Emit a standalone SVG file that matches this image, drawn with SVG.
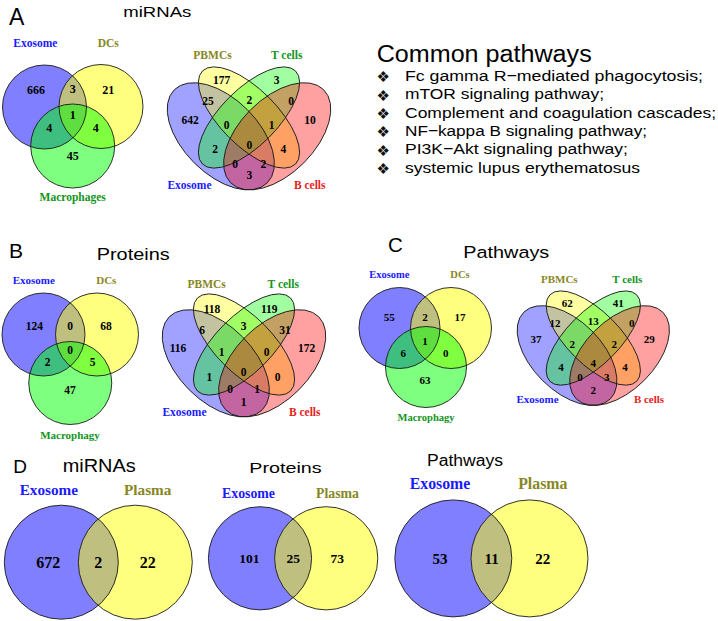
<svg xmlns="http://www.w3.org/2000/svg" width="718" height="621" viewBox="0 0 718 621">
<style>
.t{font-family:"Liberation Sans",Arial,sans-serif;fill:#000}
.lab{font-family:"Liberation Serif","Times New Roman",serif;font-weight:bold;text-anchor:middle}
.n{font-family:"Liberation Serif","Times New Roman",serif;font-weight:bold;text-anchor:middle;fill:#000}
.o{fill:none;stroke:#1a1a1a;stroke-width:0.9}
.cb{fill:#0000ff;fill-opacity:.5}
.cy{fill:#ffff00;fill-opacity:.5}
.cg{fill:#00ff00;fill-opacity:.5}
.qb{fill:#0000ff;fill-opacity:.37}
.qy{fill:#ffff00;fill-opacity:.37}
.qg{fill:#00ff00;fill-opacity:.37}
.qr{fill:#ff0000;fill-opacity:.37}
.lb{fill:#1a1aff}
.ly{fill:#87871f}
.lg{fill:#13951b}
.lr{fill:#e81c1c}
.bul{font-family:"DejaVu Sans",sans-serif;font-size:15px;fill:#111}
</style>
<rect width="718" height="621" fill="#fff"/>

<g id="titles">
<text class="t" x="9" y="25" font-size="23">A</text>
<text class="t" x="123.3" y="16.7" font-size="15.5" textLength="68" lengthAdjust="spacingAndGlyphs">miRNAs</text>
<text class="t" x="9" y="258" font-size="21">B</text>
<text class="t" x="96.7" y="260" font-size="16.5" textLength="73" lengthAdjust="spacingAndGlyphs">Proteins</text>
<text class="t" x="388" y="252" font-size="20.5">C</text>
<text class="t" x="463.3" y="258" font-size="16.3" textLength="86" lengthAdjust="spacingAndGlyphs">Pathways</text>
<text class="t" x="13.3" y="473.3" font-size="19">D</text>
<text class="t" x="62.7" y="471.7" font-size="19" textLength="73" lengthAdjust="spacingAndGlyphs">miRNAs</text>
<text class="t" x="249.3" y="472.7" font-size="15.5" textLength="72.4" lengthAdjust="spacingAndGlyphs">Proteins</text>
<text class="t" x="427" y="466" font-size="16" textLength="76" lengthAdjust="spacingAndGlyphs">Pathways</text>
</g>

<g id="common-pathways">
<text class="t" x="376.7" y="62" font-size="23" textLength="215" lengthAdjust="spacingAndGlyphs">Common pathways</text>
<text class="bul" x="376.5" y="82.2">❖︎</text>
<text class="bul" x="376.5" y="100.6">❖︎</text>
<text class="bul" x="376.5" y="119">❖︎</text>
<text class="bul" x="376.5" y="137.4">❖︎</text>
<text class="bul" x="376.5" y="155.8">❖︎</text>
<text class="bul" x="376.5" y="174.2">❖︎</text>
<text class="t" x="405" y="80.7" font-size="15.5" textLength="298" lengthAdjust="spacingAndGlyphs">Fc gamma R−mediated phagocytosis;</text>
<text class="t" x="405" y="99.1" font-size="15.5" textLength="199" lengthAdjust="spacingAndGlyphs">mTOR signaling pathway;</text>
<text class="t" x="405" y="117.5" font-size="15.5" textLength="311" lengthAdjust="spacingAndGlyphs">Complement and coagulation cascades;</text>
<text class="t" x="405" y="135.9" font-size="15.5" textLength="242" lengthAdjust="spacingAndGlyphs">NF−kappa B signaling pathway;</text>
<text class="t" x="405" y="154.3" font-size="15.5" textLength="223" lengthAdjust="spacingAndGlyphs">PI3K−Akt signaling pathway;</text>
<text class="t" x="405" y="172.7" font-size="15.5" textLength="235" lengthAdjust="spacingAndGlyphs">systemic lupus erythematosus</text>
</g>

<!-- Panel A triple -->
<g id="venn-A3">
<circle class="cb" cx="44.5" cy="107" r="42"/>
<circle class="cy" cx="101" cy="106.5" r="42"/>
<circle class="cg" cx="72.7" cy="146" r="42"/>
<circle class="o" cx="44.5" cy="107" r="42"/>
<circle class="o" cx="101" cy="106.5" r="42"/>
<circle class="o" cx="72.7" cy="146" r="42"/>
<text class="lab lb" x="35.3" y="47" font-size="11.5">Exosome</text>
<text class="lab ly" x="108.3" y="47" font-size="11.5">DCs</text>
<text class="lab lg" x="72.7" y="201" font-size="11.5">Macrophages</text>
<g font-size="12">
<text class="n" x="36" y="94">666</text>
<text class="n" x="72.7" y="93.3">3</text>
<text class="n" x="108.3" y="94">21</text>
<text class="n" x="72.7" y="119">1</text>
<text class="n" x="49.3" y="131.7">4</text>
<text class="n" x="95.7" y="131.7">4</text>
<text class="n" x="72.7" y="160">45</text>
</g>
</g>

<!-- Panel A quad -->
<g id="venn-A4">
<ellipse class="qb" cx="220.8" cy="136.3" rx="65.8" ry="37.6" transform="rotate(45 220.8 136.3)"/>
<ellipse class="qy" cx="249" cy="117.5" rx="65.8" ry="28.2" transform="rotate(45 249 117.5)"/>
<ellipse class="qg" cx="249" cy="117.5" rx="65.8" ry="28.2" transform="rotate(-45 249 117.5)"/>
<ellipse class="qr" cx="277.2" cy="136.3" rx="65.8" ry="37.6" transform="rotate(-45 277.2 136.3)"/>
<ellipse class="o" cx="220.8" cy="136.3" rx="65.8" ry="37.6" transform="rotate(45 220.8 136.3)"/>
<ellipse class="o" cx="249" cy="117.5" rx="65.8" ry="28.2" transform="rotate(45 249 117.5)"/>
<ellipse class="o" cx="249" cy="117.5" rx="65.8" ry="28.2" transform="rotate(-45 249 117.5)"/>
<ellipse class="o" cx="277.2" cy="136.3" rx="65.8" ry="37.6" transform="rotate(-45 277.2 136.3)"/>
<text class="lab ly" x="212.5" y="59" font-size="11.5">PBMCs</text>
<text class="lab lg" x="286.7" y="58.5" font-size="11.5">T cells</text>
<text class="lab lb" x="189.5" y="189" font-size="11.5">Exosome</text>
<text class="lab lr" x="309.7" y="189" font-size="11.5">B cells</text>
<g font-size="11.5">
<text class="n" x="221.7" y="84">177</text>
<text class="n" x="276.7" y="84">3</text>
<text class="n" x="208" y="105">25</text>
<text class="n" x="249.3" y="104">2</text>
<text class="n" x="291" y="105">0</text>
<text class="n" x="190" y="124">642</text>
<text class="n" x="226.7" y="129">0</text>
<text class="n" x="271.7" y="129">1</text>
<text class="n" x="310" y="124">10</text>
<text class="n" x="215" y="153">2</text>
<text class="n" x="249.3" y="149">0</text>
<text class="n" x="283.3" y="153">4</text>
<text class="n" x="235" y="168">0</text>
<text class="n" x="263.3" y="168">2</text>
<text class="n" x="249.3" y="179">3</text>
</g>
</g>

<!-- Panel B triple -->
<g id="venn-B3">
<circle class="cb" cx="43.5" cy="334.5" r="41.5"/>
<circle class="cy" cx="97" cy="334.5" r="41.5"/>
<circle class="cg" cx="70.25" cy="383" r="41.5"/>
<circle class="o" cx="43.5" cy="334.5" r="41.5"/>
<circle class="o" cx="97" cy="334.5" r="41.5"/>
<circle class="o" cx="70.25" cy="383" r="41.5"/>
<text class="lab lb" x="33.8" y="284" font-size="11">Exosome</text>
<text class="lab ly" x="106.3" y="284" font-size="11">DCs</text>
<text class="lab lg" x="70" y="439" font-size="11">Macrophagy</text>
<g font-size="11.5">
<text class="n" x="34.3" y="329.7">124</text>
<text class="n" x="70" y="329.7">0</text>
<text class="n" x="106" y="329.7">68</text>
<text class="n" x="70" y="354.3">0</text>
<text class="n" x="47.7" y="366.3">2</text>
<text class="n" x="92.7" y="366.3">5</text>
<text class="n" x="70" y="394">47</text>
</g>
</g>

<!-- Panel B quad -->
<g id="venn-B4">
<ellipse class="qb" cx="215.8" cy="363.3" rx="65.8" ry="37.6" transform="rotate(45 215.8 363.3)"/>
<ellipse class="qy" cx="244" cy="344.5" rx="65.8" ry="28.2" transform="rotate(45 244 344.5)"/>
<ellipse class="qg" cx="244" cy="344.5" rx="65.8" ry="28.2" transform="rotate(-45 244 344.5)"/>
<ellipse class="qr" cx="272.2" cy="363.3" rx="65.8" ry="37.6" transform="rotate(-45 272.2 363.3)"/>
<ellipse class="o" cx="215.8" cy="363.3" rx="65.8" ry="37.6" transform="rotate(45 215.8 363.3)"/>
<ellipse class="o" cx="244" cy="344.5" rx="65.8" ry="28.2" transform="rotate(45 244 344.5)"/>
<ellipse class="o" cx="244" cy="344.5" rx="65.8" ry="28.2" transform="rotate(-45 244 344.5)"/>
<ellipse class="o" cx="272.2" cy="363.3" rx="65.8" ry="37.6" transform="rotate(-45 272.2 363.3)"/>
<text class="lab ly" x="206.7" y="287.5" font-size="11.5">PBMCs</text>
<text class="lab lg" x="283.3" y="287.5" font-size="11.5">T cells</text>
<text class="lab lb" x="184.5" y="416" font-size="11.5">Exosome</text>
<text class="lab lr" x="304.7" y="416" font-size="11.5">B cells</text>
<g font-size="11.5">
<text class="n" x="212" y="313">118</text>
<text class="n" x="269.3" y="313">119</text>
<text class="n" x="202" y="334">6</text>
<text class="n" x="243.5" y="329.7">3</text>
<text class="n" x="285" y="334">31</text>
<text class="n" x="178" y="352.3">116</text>
<text class="n" x="221.7" y="355.7">1</text>
<text class="n" x="266.7" y="355.7">0</text>
<text class="n" x="306.7" y="352.3">172</text>
<text class="n" x="209.3" y="380.7">1</text>
<text class="n" x="243.5" y="375.7">0</text>
<text class="n" x="277.7" y="380.7">0</text>
<text class="n" x="230" y="393">0</text>
<text class="n" x="257" y="393">1</text>
<text class="n" x="243.5" y="406">1</text>
</g>
</g>

<!-- Panel C triple -->
<g id="venn-C3">
<circle class="cb" cx="399.5" cy="328" r="40.5"/>
<circle class="cy" cx="451" cy="328" r="40.5"/>
<circle class="cg" cx="426" cy="367" r="40.5"/>
<circle class="o" cx="399.5" cy="328" r="40.5"/>
<circle class="o" cx="451" cy="328" r="40.5"/>
<circle class="o" cx="426" cy="367" r="40.5"/>
<text class="lab lb" x="389.3" y="278.3" font-size="10.5">Exosome</text>
<text class="lab ly" x="460" y="278.3" font-size="10.5">DCs</text>
<text class="lab lg" x="426" y="421" font-size="10.5">Macrophagy</text>
<g font-size="11">
<text class="n" x="389.3" y="321.3">55</text>
<text class="n" x="425" y="321.3">2</text>
<text class="n" x="460" y="321.3">17</text>
<text class="n" x="425" y="344.7">1</text>
<text class="n" x="403.3" y="356.7">6</text>
<text class="n" x="445.7" y="356.7">0</text>
<text class="n" x="425" y="384">63</text>
</g>
</g>

<!-- Panel C quad -->
<g id="venn-C4">
<ellipse class="qb" cx="567.05" cy="355.55" rx="61.25" ry="35" transform="rotate(45 567.05 355.55)"/>
<ellipse class="qy" cx="593.3" cy="338.05" rx="61.25" ry="26.25" transform="rotate(45 593.3 338.05)"/>
<ellipse class="qg" cx="593.3" cy="338.05" rx="61.25" ry="26.25" transform="rotate(-45 593.3 338.05)"/>
<ellipse class="qr" cx="619.55" cy="355.55" rx="61.25" ry="35" transform="rotate(-45 619.55 355.55)"/>
<ellipse class="o" cx="567.05" cy="355.55" rx="61.25" ry="35" transform="rotate(45 567.05 355.55)"/>
<ellipse class="o" cx="593.3" cy="338.05" rx="61.25" ry="26.25" transform="rotate(45 593.3 338.05)"/>
<ellipse class="o" cx="593.3" cy="338.05" rx="61.25" ry="26.25" transform="rotate(-45 593.3 338.05)"/>
<ellipse class="o" cx="619.55" cy="355.55" rx="61.25" ry="35" transform="rotate(-45 619.55 355.55)"/>
<text class="lab ly" x="559.3" y="283.3" font-size="11">PBMCs</text>
<text class="lab lg" x="627.3" y="283.3" font-size="11">T cells</text>
<text class="lab lb" x="537.5" y="403" font-size="11">Exosome</text>
<text class="lab lr" x="649" y="403" font-size="11">B cells</text>
<g font-size="11">
<text class="n" x="567.3" y="307.3">62</text>
<text class="n" x="618.3" y="307.3">41</text>
<text class="n" x="555" y="327.3">12</text>
<text class="n" x="593.3" y="325">13</text>
<text class="n" x="631.7" y="326.7">0</text>
<text class="n" x="536" y="343.3">37</text>
<text class="n" x="572.3" y="348">2</text>
<text class="n" x="614.3" y="348">2</text>
<text class="n" x="649.3" y="343.3">29</text>
<text class="n" x="561" y="370.7">4</text>
<text class="n" x="593.3" y="366.7">4</text>
<text class="n" x="625" y="370.7">4</text>
<text class="n" x="580" y="381.3">0</text>
<text class="n" x="606.7" y="381.3">3</text>
<text class="n" x="593.3" y="394">2</text>
</g>
</g>

<!-- Panel D -->
<g id="venn-D1">
<circle class="cb" cx="61.3" cy="562.2" r="57"/>
<circle class="cy" cx="135.3" cy="562.2" r="57"/>
<circle class="o" cx="61.3" cy="562.2" r="57"/>
<circle class="o" cx="135.3" cy="562.2" r="57"/>
<text class="lab lb" x="48.8" y="495" font-size="15.2">Exosome</text>
<text class="lab ly" x="147.7" y="495" font-size="15.2">Plasma</text>
<g font-size="16">
<text class="n" x="48.3" y="567.8">672</text>
<text class="n" x="98.3" y="567.8">2</text>
<text class="n" x="147.7" y="567.8">22</text>
</g>
</g>

<g id="venn-D2">
<circle class="cb" cx="260" cy="558.3" r="51.6"/>
<circle class="cy" cx="326.2" cy="558.3" r="51.6"/>
<circle class="o" cx="260" cy="558.3" r="51.6"/>
<circle class="o" cx="326.2" cy="558.3" r="51.6"/>
<text class="lab lb" x="248.5" y="497.5" font-size="13.8">Exosome</text>
<text class="lab ly" x="337.5" y="497.5" font-size="13.8">Plasma</text>
<g font-size="13.5">
<text class="n" x="249.3" y="563">101</text>
<text class="n" x="293.3" y="563">25</text>
<text class="n" x="337.3" y="563">73</text>
</g>
</g>

<g id="venn-D3">
<circle class="cb" cx="453.3" cy="558.4" r="58.5"/>
<circle class="cy" cx="529.5" cy="558.4" r="58.5"/>
<circle class="o" cx="453.3" cy="558.4" r="58.5"/>
<circle class="o" cx="529.5" cy="558.4" r="58.5"/>
<text class="lab lb" x="440" y="489" font-size="15.8">Exosome</text>
<text class="lab ly" x="542.8" y="489" font-size="15.8">Plasma</text>
<g font-size="15">
<text class="n" x="440" y="563.5">53</text>
<text class="n" x="491.7" y="563.5">11</text>
<text class="n" x="542.7" y="563.5">22</text>
</g>
</g>
</svg>
